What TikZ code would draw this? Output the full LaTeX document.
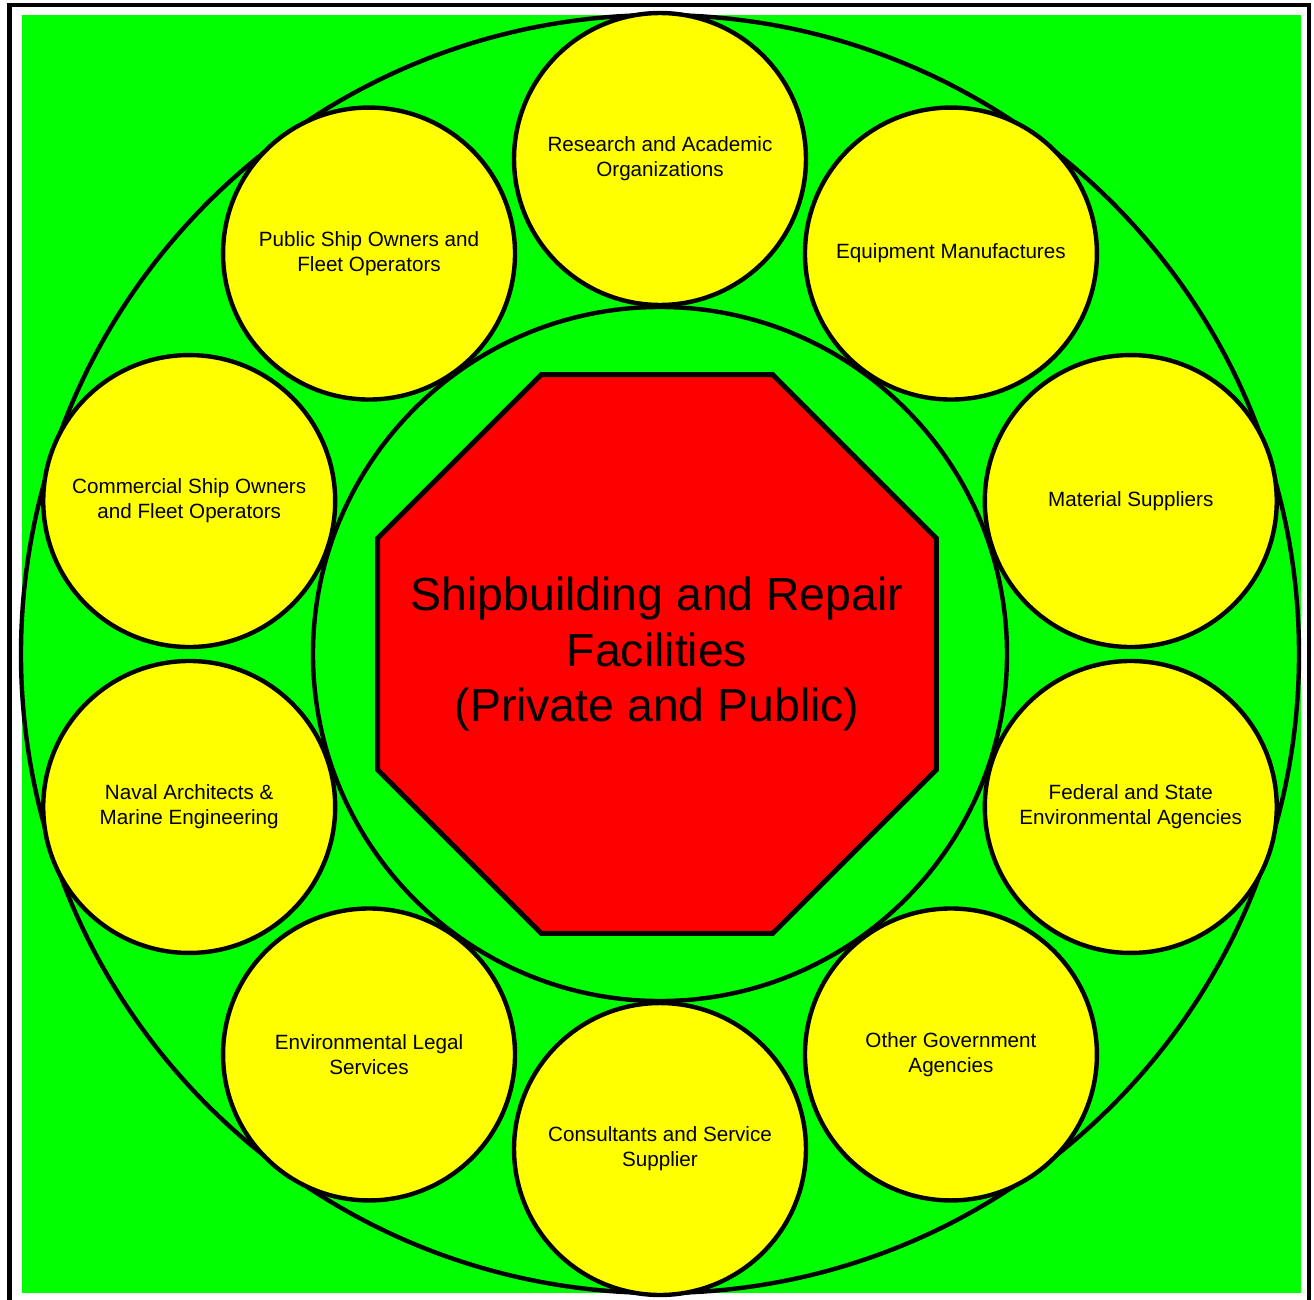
\documentclass[tikz,border=0pt]{standalone}
\usepackage{fontspec}
\setmainfont{Liberation Sans}
\usetikzlibrary{shapes.geometric}

\definecolor{lawn}{RGB}{0,255,0}
\definecolor{sun}{RGB}{255,255,0}
\definecolor{alarm}{RGB}{255,0,0}

\tikzset{
  ring/.style={draw, line width=2.5pt},
  partner/.style={circle, draw, fill=sun, line width=2.5pt,
    minimum size=5.84cm, inner sep=0pt, align=center,
    font=\fontsize{11.75}{14.2}\selectfont},
  yard/.style={regular polygon, regular polygon sides=8, draw, fill=alarm,
    line width=2.8pt, minimum size=12.1cm, inner sep=0pt},
  yardlabel/.style={align=center, inner sep=0pt,
    font=\fontsize{26.4}{31.7}\selectfont}
}

\begin{document}
\begin{tikzpicture}[x=0.02cm, y=0.02cm]

  \clip (-660,-645) rectangle (654,654);
  \fill[white] (-660,-645) rectangle (654,654);
  \draw[line width=2.8pt] (-650.5,-700) rectangle (649,649);
  \fill[lawn] (-638,-639) rectangle (641,639);

  \coordinate (hub) at (0,0);
  \draw[ring] (hub) circle [radius=639];
  \draw[ring] (hub) circle [radius=347];

  \node[yard] (yard) at (-3,0) {};
  \node[yardlabel] (yardtext) at (yard.center) {Shipbuilding and Repair\\Facilities\\(Private and Public)};

  \foreach \theta/\name/\txt in {
      90/research/{Research and Academic\\Organizations},
      54/equipment/{Equipment Manufactures},
      18/material/{Material Suppliers},
      -18/federal/{Federal and State\\Environmental Agencies},
      -54/government/{Other Government\\Agencies},
      -90/consultants/{Consultants and Service\\Supplier},
      -126/legal/{Environmental Legal\\Services},
      -162/naval/{Naval Architects \&\\Marine Engineering},
      162/commercial/{Commercial Ship Owners\\and Fleet Operators},
      126/public/{Public Ship Owners and\\Fleet Operators}}{
    \node[partner] (\name) at (\theta:495) {\txt};
  }

\end{tikzpicture}
\end{document}
